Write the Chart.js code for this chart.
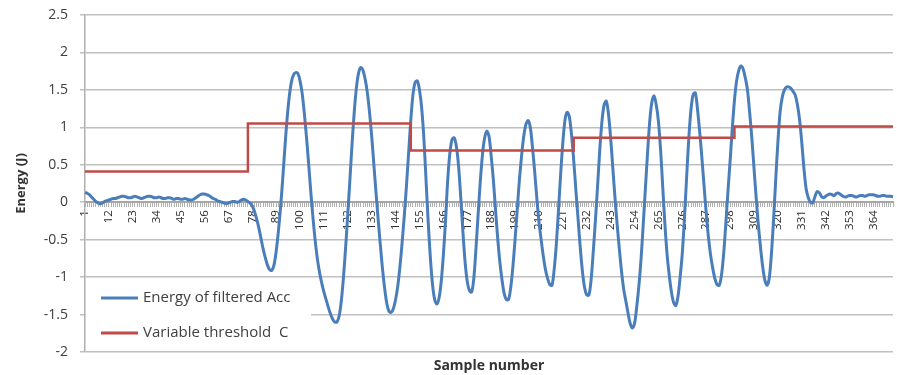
<!DOCTYPE html>
<html>
<head>
<meta charset="utf-8">
<script src="https://cdn.jsdelivr.net/npm/chart.js@4.4.1/dist/chart.umd.min.js"></script>
<style>
  html, body { margin: 0; padding: 0; background: #fff; }
  #wrap { width: 897px; height: 375px; }
</style>
</head>
<body>
<div id="wrap"><canvas id="myChart" width="897" height="375"></canvas></div>
<script>
// energy of filtered acc, one value per sample
const energy = [
  0.13, 0.12, 0.10, 0.07, 0.04, 0.01, -0.01, -0.02, -0.01, 0.01,
  0.02, 0.03, 0.04, 0.05, 0.05, 0.06, 0.07, 0.08, 0.08, 0.07,
  0.06, 0.06, 0.07, 0.08, 0.07, 0.06, 0.05, 0.06, 0.07, 0.08,
  0.08, 0.07, 0.06, 0.06, 0.07, 0.06, 0.05, 0.05, 0.06, 0.06,
  0.05, 0.04, 0.05, 0.05, 0.04, 0.04, 0.05, 0.04, 0.03, 0.03,
  0.04, 0.06, 0.08, 0.10, 0.11, 0.11, 0.10, 0.09, 0.07, 0.05,
  0.04, 0.02, 0.01, 0.00, -0.01, -0.02, -0.01, 0.00, 0.01, 0.01,
  0.00, 0.01, 0.03, 0.04, 0.03, 0.01, -0.01, -0.05, -0.12, -0.22,
  -0.34, -0.48, -0.62, -0.74, -0.84, -0.90, -0.91, -0.84, -0.66, -0.40,
  -0.08, 0.30, 0.72, 1.10, 1.40, 1.60, 1.70, 1.73, 1.72, 1.62,
  1.45, 1.18, 0.86, 0.50, 0.12, -0.22, -0.52, -0.76, -0.94, -1.08,
  -1.20, -1.30, -1.40, -1.49, -1.56, -1.60, -1.60, -1.52, -1.32, -1.00,
  -0.60, -0.15, 0.32, 0.80, 1.22, 1.54, 1.73, 1.80, 1.76, 1.64,
  1.46, 1.20, 0.88, 0.50, 0.12, -0.24, -0.58, -0.90, -1.16, -1.36,
  -1.46, -1.47, -1.42, -1.30, -1.12, -0.86, -0.54, -0.18, 0.22, 0.66,
  1.10, 1.44, 1.60, 1.62, 1.50, 1.26, 0.86, 0.30, -0.26, -0.74,
  -1.10, -1.30, -1.36, -1.28, -1.06, -0.70, -0.24, 0.30, 0.66, 0.84,
  0.86, 0.74, 0.48, 0.06, -0.40, -0.80, -1.06, -1.18, -1.20, -1.02,
  -0.62, -0.16, 0.28, 0.64, 0.86, 0.95, 0.88, 0.62, 0.30, -0.10,
  -0.48, -0.80, -1.04, -1.22, -1.30, -1.30, -1.14, -0.86, -0.50, -0.10,
  0.30, 0.62, 0.88, 1.04, 1.09, 1.00, 0.74, 0.42, 0.06, -0.26,
  -0.50, -0.72, -0.90, -1.02, -1.10, -1.11, -0.90, -0.56, -0.10, 0.38,
  0.80, 1.10, 1.20, 1.14, 0.90, 0.56, 0.16, -0.22, -0.60, -0.92,
  -1.14, -1.24, -1.24, -1.04, -0.66, -0.24, 0.22, 0.70, 1.08, 1.30,
  1.35, 1.18, 0.86, 0.46, 0.06, -0.30, -0.62, -0.92, -1.16, -1.32,
  -1.48, -1.62, -1.68, -1.62, -1.40, -1.12, -0.76, -0.30, 0.18, 0.66,
  1.08, 1.34, 1.42, 1.30, 1.08, 0.70, 0.20, -0.30, -0.70, -0.98,
  -1.20, -1.34, -1.38, -1.26, -1.00, -0.68, -0.20, 0.34, 0.86, 1.24,
  1.44, 1.46, 1.24, 0.94, 0.60, 0.22, -0.14, -0.46, -0.70, -0.88,
  -1.02, -1.10, -1.11, -0.98, -0.70, -0.30, 0.14, 0.55, 0.98, 1.36,
  1.62, 1.76, 1.82, 1.78, 1.66, 1.50, 1.20, 0.86, 0.46, 0.06,
  -0.30, -0.60, -0.86, -1.04, -1.11, -1.02, -0.70, -0.24, 0.30, 0.80,
  1.20, 1.40, 1.50, 1.54, 1.54, 1.52, 1.48, 1.43, 1.30, 1.10,
  0.80, 0.45, 0.18, 0.06, 0.00, -0.01, 0.07, 0.14, 0.13, 0.08,
  0.06, 0.08, 0.10, 0.11, 0.10, 0.09, 0.12, 0.12, 0.10, 0.08,
  0.07, 0.08, 0.09, 0.09, 0.08, 0.07, 0.08, 0.09, 0.09, 0.08,
  0.09, 0.10, 0.10, 0.10, 0.09, 0.08, 0.08, 0.09, 0.09, 0.08,
  0.08, 0.08, 0.07
];

// variable threshold C: sample where each level starts, and the level
const thresholdStarts = [1, 76, 151, 226, 300];
const thresholdLevels = [0.41, 1.05, 0.69, 0.86, 1.01];

const labelStep = 11; // 1, 12, 23, ... 364
const yTicks = [-2, -1.5, -1, -0.5, 0, 0.5, 1, 1.5, 2, 2.5];

const samples = energy.map((v, i) => i + 1);
const threshold = samples.map(s => {
  let lvl = thresholdLevels[0];
  for (let k = 0; k < thresholdStarts.length; k++) {
    if (s >= thresholdStarts[k]) lvl = thresholdLevels[k];
  }
  return lvl;
});

const FONT = "'Open Sans', Lato, sans-serif";

// legend drawn inside the plot, bottom-left, on a white box
const innerLegend = {
  id: 'innerLegend',
  beforeDatasetsDraw(chart) {
    const { ctx, chartArea } = chart;
    const x0 = chartArea.left + 1;
    const y0 = chartArea.bottom - 72;
    ctx.save();
    ctx.fillStyle = '#ffffff';
    ctx.fillRect(x0, y0, 225, 70);
    ctx.font = "15px " + FONT;
    ctx.textBaseline = 'middle';
    chart.data.datasets.forEach((ds, i) => {
      const y = y0 + 18 + i * 35;
      ctx.strokeStyle = ds.borderColor;
      ctx.lineWidth = 3;
      ctx.beginPath();
      ctx.moveTo(x0 + 15, y);
      ctx.lineTo(x0 + 52, y);
      ctx.stroke();
      ctx.fillStyle = '#404040';
      ctx.fillText(ds.label, x0 + 57, y);
    });
    ctx.restore();
  }
};

var ctx = document.getElementById('myChart');
var myChart = new Chart(ctx, {
  type: 'line',
  data: {
    labels: samples,
    datasets: [
      {
        label: 'Energy of filtered Acc',
        data: energy,
        borderColor: '#4a7ebb',
        borderWidth: 3,
        pointRadius: 0,
        tension: 0.3,
        order: 1
      },
      {
        label: 'Variable threshold  C',
        data: threshold,
        borderColor: '#be4b48',
        borderWidth: 2.5,
        pointRadius: 0,
        stepped: true,
        order: 0
      }
    ]
  },
  options: {
    responsive: false,
    animation: false,
    devicePixelRatio: 1,
    layout: { padding: { top: 15, right: 4, left: 0, bottom: 0 } },
    plugins: { legend: { display: false }, tooltip: { enabled: false } },
    scales: {
      x: {
        type: 'category',
        position: { y: 0 },
        offset: false,
        grid: { drawOnChartArea: false, drawTicks: true, tickLength: 4, color: '#b0b0b0' },
        border: { display: true, color: '#a6a6a6', width: 2 },
        ticks: {
          autoSkip: false,
          minRotation: 90,
          maxRotation: 90,
          padding: 4,
          color: '#2b2b2b',
          font: { family: FONT, size: 11.5 },
          callback: function (val, index) {
            return index % labelStep === 0 ? String(samples[index]) : '';
          }
        },
        afterFit: function (scale) {
          scale.paddingLeft = 0;
          scale.paddingRight = 0;
        }
      },
      xTitle: {
        type: 'linear',
        position: 'bottom',
        axis: 'x',
        grid: { display: false },
        border: { display: false },
        ticks: { display: false },
        title: {
          display: true,
          text: 'Sample number',
          color: '#333',
          font: { family: FONT, size: 14, weight: 'bold' },
          padding: { top: 0, bottom: 1 }
        },
        afterFit: function (scale) {
          scale.height = 23;
          scale.paddingLeft = 0;
          scale.paddingRight = 0;
        }
      },
      y: {
        min: -2,
        max: 2.5,
        afterBuildTicks: function (scale) {
          scale.ticks = yTicks.map(v => ({ value: v }));
        },
        grid: { color: '#c0c0c0', lineWidth: 1.5, tickLength: 5 },
        border: { display: true, color: '#b0b0b0', width: 1.5 },
        ticks: {
          padding: 12,
          color: '#404040',
          font: { family: FONT, size: 14 },
          callback: v => String(v)
        },
        title: {
          display: true,
          text: 'Energy (J)',
          color: '#333',
          font: { family: FONT, size: 13, weight: 'bold' },
          padding: { top: 13, bottom: 0 }
        },
        afterFit: function (scale) {
          scale.width = 85;
          scale.paddingTop = 0;
          scale.paddingBottom = 0;
        }
      }
    }
  },
  plugins: [innerLegend]
});
</script>
</body>
</html>
